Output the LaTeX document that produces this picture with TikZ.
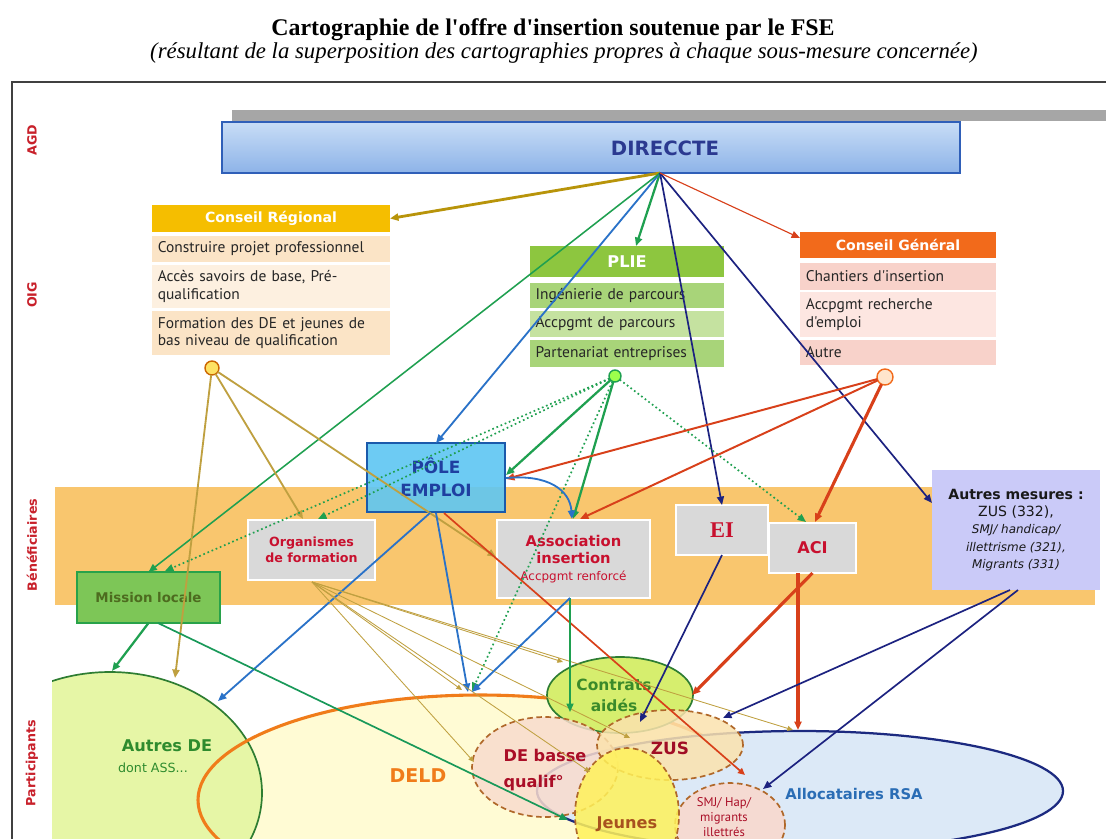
\documentclass[tikz,border=0pt]{standalone}
\usepackage{fontspec}
\setmainfont{DejaVu Sans}
\newfontfamily\rowfont{PT Sans}
\newfontfamily\titlefont{Liberation Serif}
\usetikzlibrary{shapes.geometric,arrows.meta}
\newcommand\px{0.025cm}
\newcommand\fsz[2]{\fontsize{#1}{#2}\selectfont}
\definecolor{crHead}{HTML}{F5BE00}
\definecolor{crA}{HTML}{FBE4C6}
\definecolor{crB}{HTML}{FDF0E0}
\definecolor{plHead}{HTML}{8DC63F}
\definecolor{plA}{HTML}{A8D479}
\definecolor{plB}{HTML}{C5E2A0}
\definecolor{cgHead}{HTML}{F26A1B}
\definecolor{cgA}{HTML}{F8D2CA}
\definecolor{cgB}{HTML}{FDE6E1}
\definecolor{dirTop}{HTML}{C8DDF6}
\definecolor{dirBot}{HTML}{8DB3E8}
\definecolor{dirBorder}{HTML}{2F5FB8}
\definecolor{dirText}{HTML}{2B3990}
\definecolor{band}{HTML}{F9C66E}
\definecolor{peFill}{HTML}{5EC6F2}
\definecolor{peBorder}{HTML}{1B5AAB}
\definecolor{peText}{HTML}{1F3FA0}
\definecolor{greyb}{HTML}{D9D9D9}
\definecolor{labRed}{HTML}{C8102E}
\definecolor{amFill}{HTML}{CACAF8}
\definecolor{mlFill}{HTML}{7DC657}
\definecolor{mlBorder}{HTML}{28A24A}
\definecolor{mlText}{HTML}{4D6B1F}
\definecolor{adFill}{HTML}{E6F6A6}
\definecolor{adBorder}{HTML}{2E7D32}
\definecolor{adText}{HTML}{2E8B2E}
\definecolor{deldFill}{HTML}{FFFBD4}
\definecolor{deldBorder}{HTML}{F07C1A}
\definecolor{rsaFill}{HTML}{DCE9F7}
\definecolor{rsaBorder}{HTML}{1C2A80}
\definecolor{rsaText}{HTML}{2A6DB5}
\definecolor{caFill}{HTML}{D6EE6E}
\definecolor{caText}{HTML}{3A8A2A}
\definecolor{dbqFill}{HTML}{F9DCCD}
\definecolor{dashBrown}{HTML}{B0682A}
\definecolor{zusFill}{HTML}{FBE2AE}
\definecolor{jeFill}{HTML}{FFF25A}
\definecolor{jeText}{HTML}{A8521E}
\definecolor{smjFill}{HTML}{FAD8CC}
\definecolor{gold}{HTML}{B8940A}
\definecolor{olive}{HTML}{BFA040}
\definecolor{grn}{HTML}{1FA050}
\definecolor{blu}{HTML}{2A72C8}
\definecolor{navy}{HTML}{1C2280}
\definecolor{rd}{HTML}{D8401A}
\definecolor{sideRed}{HTML}{C8202A}
\begin{document}
\begin{tikzpicture}[x=0.025cm,y=-0.025cm,
  >={Triangle[length=6pt,width=5pt]},
  every node/.style={inner sep=0pt, outer sep=0pt},
  rowbox/.style={rectangle, inner xsep=3.5pt, align=left, font=\rowfont\fsz{11}{12.2}, text=black!85},
  hdrbox/.style={rectangle, text=white, font=\bfseries\fsz{10}{12}},
  greybox/.style={rectangle, fill=greyb, draw=white, line width=0.8pt},
  circ/.style={circle, line width=1pt},
  oval/.style={ellipse, line width=1.2pt},
  dashov/.style={ellipse, draw=dashBrown, line width=1.2pt, dash pattern=on 4pt off 2.5pt, fill opacity=0.85, text opacity=1},
  sidelab/.style={rotate=90, text=sideRed, font=\bfseries\fsz{9}{11}},
  lgold/.style={->, draw=gold, line width=2pt},
  lolive/.style={->, draw=olive, line width=1.3pt},
  lthin/.style={->, draw=olive, line width=0.6pt, >={Triangle[length=4pt,width=3.5pt]}},
  lgreen/.style={->, draw=grn, line width=1.6pt},
  lgreenT/.style={->, draw=grn, line width=1.1pt},
  ldot/.style={->, draw=grn, line width=1.2pt, dotted},
  lblue/.style={->, draw=blu, line width=1.3pt},
  lnavy/.style={->, draw=navy, line width=1.2pt},
  lred/.style={->, draw=rd, line width=1.4pt},
  lredT/.style={->, draw=rd, line width=2.2pt},
]
\useasboundingbox (0,0) rectangle (1106,838);
\fill[white] (0,0) rectangle (1106,838);

% titles
\node[font=\titlefont\bfseries\fsz{17}{19}] (title) at (553,30) {Cartographie de l'offre d'insertion soutenue par le FSE};
\node[font=\titlefont\itshape\fsz{16.2}{18}] (subtitle) at (564,53) {(résultant de la superposition des cartographies propres à chaque sous-mesure concernée)};

% frame and band
\draw[line width=1.3pt, black!75] (12,82) rectangle (1130,860);
\fill[band] (55,487) rectangle (1095,605);

\node[sidelab] (sAGD) at (32,140) {AGD};
\node[sidelab] (sOIG) at (32,295) {OIG};
\node[sidelab] (sBen) at (32,545) {Bénéficiaires};
\node[sidelab] (sPar) at (32,763) {Participants};

% DIRECCTE
\fill[black!35] (232,110) rectangle (1106,121);
\node[draw=dirBorder, line width=1.2pt, top color=dirTop, bottom color=dirBot, minimum width=738*\px, minimum height=51*\px] (dir) at (591,147.5) {};
\node[text=dirText, font=\bfseries\fsz{14}{16}] (dirlab) at (665,148) {DIRECCTE};
\coordinate (hub) at (660,173);

% Conseil Regional
\node[hdrbox, fill=crHead, minimum width=238*\px, minimum height=27*\px] (crh) at (271,218.5) {Conseil Régional};
\node[rowbox, fill=crA, minimum width=238*\px, minimum height=26*\px, text width=161pt] (cr1) at (271,249) {Construire projet professionnel};
\node[rowbox, fill=crB, minimum width=238*\px, minimum height=43*\px, text width=161pt] (cr2) at (271,286.5) {Accès savoirs de base, Pré-\\qualification};
\node[rowbox, fill=crA, minimum width=238*\px, minimum height=44*\px, text width=161pt] (cr3) at (271,333) {Formation des DE et jeunes de\\bas niveau de qualification};
\node[circ, fill=yellow!70!orange!60, draw=orange!80!black, minimum size=14*\px] (crc) at (212,368) {};

% PLIE
\node[hdrbox, fill=plHead, minimum width=194*\px, minimum height=31*\px, font=\bfseries\fsz{11.5}{13}] (pl0) at (627,261.5) {PLIE};
\node[rowbox, fill=plA, minimum width=194*\px, minimum height=25*\px, text width=130pt] (pl1) at (627,295.5) {Ingénierie de parcours};
\node[rowbox, fill=plB, minimum width=194*\px, minimum height=26*\px, text width=130pt] (pl2) at (627,324) {Accpgmt de parcours};
\node[rowbox, fill=plA, minimum width=194*\px, minimum height=27*\px, text width=130pt] (pl3) at (627,353.5) {Partenariat entreprises};
\node[circ, fill=green!55!yellow!70, draw=grn, minimum size=12*\px] (plc) at (615,376) {};

% Conseil General
\node[hdrbox, fill=cgHead, minimum width=196*\px, minimum height=26*\px] (cgh) at (898,245) {Conseil Général};
\node[rowbox, fill=cgA, minimum width=196*\px, minimum height=27*\px, text width=131pt] (cg1) at (898,276.5) {Chantiers d'insertion};
\node[rowbox, fill=cgB, minimum width=196*\px, minimum height=45*\px, text width=131pt] (cg2) at (898,314.5) {Accpgmt recherche\\d'emploi};
\node[rowbox, fill=cgA, minimum width=196*\px, minimum height=25*\px, text width=131pt] (cg3) at (898,352.5) {Autre};
\node[circ, fill=orange!20, draw=cgHead, minimum size=16*\px] (cgc) at (885,377) {};

% Beneficiaires
\node[draw=peBorder, line width=1.6pt, fill=peFill, fill opacity=0.9, text opacity=1, minimum width=138*\px, minimum height=69*\px, text=peText, font=\bfseries\fsz{12}{16}, align=center] (pe) at (436,477.5) {PÔLE\\EMPLOI};
\node[greybox, minimum width=127*\px, minimum height=60*\px, text=labRed, font=\bfseries\fsz{9}{11}, align=center] (of) at (311.5,550) {Organismes\\de formation};
\node[greybox, minimum width=153*\px, minimum height=78*\px, text=labRed, align=center] (ai) at (573.5,559) {{\bfseries\fsz{10.5}{15.5}Association}\\{\bfseries\fsz{10.5}{15.5}insertion}\\{\fsz{8.5}{15.5}Accpgmt renforcé}};
\node[greybox, minimum width=92*\px, minimum height=50*\px, text=labRed, font=\titlefont\bfseries\fsz{16}{18}] (ei) at (722,530) {EI};
\node[greybox, minimum width=87*\px, minimum height=50*\px, text=labRed, font=\bfseries\fsz{11.5}{13}] (aci) at (812.5,548) {ACI};
\node[fill=amFill, minimum width=168*\px, minimum height=120*\px, align=center, font=\fsz{10}{12.2}, text=black!90] (am) at (1016,530) {\textbf{Autres mesures :}\\ZUS (332),\\{\fontsize{8.5}{12.2}\selectfont\itshape SMJ/ handicap/}\\{\fontsize{8.5}{12.2}\selectfont\itshape illettrisme (321),}\\{\fontsize{8.5}{12.2}\selectfont\itshape Migrants (331)}};
\node[draw=mlBorder, line width=1.6pt, fill=mlFill, minimum width=143*\px, minimum height=51*\px, text=mlText, font=\bfseries\fsz{9.5}{11}] (ml) at (148.5,597.5) {Mission locale};

% Participants
\begin{scope}
\clip (52,600) rectangle (1106,838);
\node[ellipse, fill=deldFill, minimum width=564*\px, minimum height=210*\px] (deldF) at (480,800) {};
\node[oval, fill=adFill, draw=adBorder, minimum width=304*\px, minimum height=242*\px] (ad) at (110,793) {};
\node[ellipse, draw=deldBorder, line width=2.2pt, minimum width=564*\px, minimum height=210*\px] (deld) at (480,800) {};
\node[oval, fill=rsaFill, draw=rsaBorder, line width=1.6pt, minimum width=526*\px, minimum height=120*\px] (rsa) at (800,791) {};
\node[oval, fill=caFill, draw=adBorder, minimum width=146*\px, minimum height=76*\px] (ca) at (620,695) {};
\node[dashov, fill=dbqFill, minimum width=146*\px, minimum height=100*\px] (dbq) at (545,767) {};
\node[dashov, fill=zusFill, minimum width=146*\px, minimum height=70*\px] (zus) at (670,745) {};
\node[dashov, fill=smjFill, minimum width=110*\px, minimum height=84*\px] (smj) at (730,825) {};
\node[dashov, fill=jeFill, minimum width=104*\px, minimum height=134*\px] (je) at (627,815) {};
\end{scope}
\node[text=adText, font=\bfseries\fsz{11.5}{13}] (adlab) at (167,746) {Autres DE};
\node[text=adText, font=\fsz{9}{11}] (adlab2) at (153,768) {dont ASS...};
\node[text=deldBorder, font=\bfseries\fsz{13.5}{15}] (deldlab) at (418,776) {DELD};
\node[text=rsaText, font=\bfseries\fsz{10.5}{12}] (rsalab) at (854,794) {Allocataires RSA};
\node[text=caText, font=\bfseries\fsz{11}{15}, align=center] (calab) at (614,695) {Contrats\\aidés};
\node[text=labRed!85!black, font=\bfseries\fsz{11.5}{18}, align=left] (dbqlab) at (545,770) {DE basse\\qualif°};
\node[text=labRed!80!black, font=\bfseries\fsz{12}{14}] (zuslab) at (670,748) {ZUS};
\node[text=jeText, font=\bfseries\fsz{11.5}{13}] (jelab) at (627,824) {Jeunes};
\node[text=labRed!85!black, font=\rowfont\fsz{9}{10.5}, align=center] (smjlab) at (724,817) {SMJ/ Hap/\\migrants\\illettrés};

% target coordinates
\coordinate (plT) at (636,246);
\coordinate (amL) at (932,503);
\coordinate (cgL) at (800,238);
\coordinate (ad1) at (175,678);
\coordinate (of1) at (303,519);
\coordinate (ai1) at (496,557);
\coordinate (pe1) at (506,475);
\coordinate (ai2) at (573,519);
\coordinate (of2) at (318,519);
\coordinate (ml2) at (165,571);
\coordinate (aci1) at (806,522);
\coordinate (deld1) at (472,691);
\coordinate (pe2) at (506,479);
\coordinate (ai3) at (580,519);
\coordinate (aci2) at (815,522);
\coordinate (pe3) at (506,478);
\coordinate (ai4) at (572,519);
\coordinate (pe4) at (430,513);
\coordinate (ad2) at (218,701);
\coordinate (pe5) at (436,513);
\coordinate (deld2) at (468,692);
\coordinate (pe6) at (444,513);
\coordinate (smj1) at (745,775);
\coordinate (of3) at (312,582);
\coordinate (deld3) at (462,690);
\coordinate (ca1) at (563,662);
\coordinate (dbq1) at (474,762);
\coordinate (je1) at (590,772);
\coordinate (zus1) at (630,738);
\coordinate (rsa1) at (793,730);
\coordinate (ai5) at (570,598);
\coordinate (ca2) at (570,712);
\coordinate (deld4) at (472,692);
\coordinate (zus2) at (640,722);
\coordinate (ca3) at (692,695);
\coordinate (aci3) at (798,573);
\coordinate (rsa2) at (798,730);
\coordinate (am4) at (1010,590);
\coordinate (zus3) at (723,718);
\coordinate (am5) at (1018,590);
\coordinate (smj2) at (763,789);
\coordinate (ad3) at (112,671);
\coordinate (ml3) at (158,623);
\coordinate (je2) at (568,820);

% connectors from DIRECCTE
\draw[lgold] (hub) -- (crh.east);
\draw[lgreen] (hub) -- (plT);
\draw[lblue] (hub) -- (pe.north);
\draw[lgreenT] (hub) -- (ml.north);
\draw[lnavy] (hub) -- (ei.north);
\draw[lnavy] (hub) -- (amL);
\draw[->, draw=rd, line width=0.8pt] (hub) -- (cgL);

% from Conseil Regional
\draw[lolive] (crc) -- (ad1);
\draw[lolive] (crc) -- (of1);
\draw[lolive] (crc) -- (ai1);

% from PLIE
\draw[lgreen] (plc) -- (pe1);
\draw[lgreen] (plc) -- (ai2);
\draw[ldot] (plc) -- (of2);
\draw[ldot] (plc) -- (ml2);
\draw[ldot] (plc) -- (aci1);
\draw[ldot] (plc) -- (deld1);

% from Conseil General
\draw[lred] (cgc) -- (pe2);
\draw[lred] (cgc) -- (ai3);
\draw[lredT] (cgc) -- (aci2);

% from Pole Emploi
\draw[lblue] (pe3) .. controls (548,474) and (570,490) .. (ai4);
\draw[lblue] (pe4) -- (ad2);
\draw[lblue] (pe5) -- (deld2);
\draw[->, draw=rd, line width=1.2pt, >={Triangle[length=5pt,width=4.5pt]}] (pe6) -- (smj1);

% from Organismes de formation
\draw[lthin] (of3) -- (deld3);
\draw[lthin] (of3) -- (ca1);
\draw[lthin] (of3) -- (dbq1);
\draw[lthin] (of3) -- (je1);
\draw[lthin] (of3) -- (zus1);
\draw[lthin] (of3) -- (rsa1);

% from Association insertion
\draw[lgreenT] (ai5) -- (ca2);
\draw[lblue] (ai5) -- (deld4);

% from EI, ACI, Autres mesures
\draw[lnavy] (ei.south) -- (zus2);
\draw[lredT] (aci.south) -- (ca3);
\draw[lredT] (aci3) -- (rsa2);
\draw[lnavy] (am4) -- (zus3);
\draw[lnavy] (am5) -- (smj2);

% from Mission locale
\draw[lgreen] (ml.south) -- (ad3);
\draw[->, draw=grn!80!teal, line width=1.2pt] (ml3) -- (je2);
\end{tikzpicture}
\end{document}
